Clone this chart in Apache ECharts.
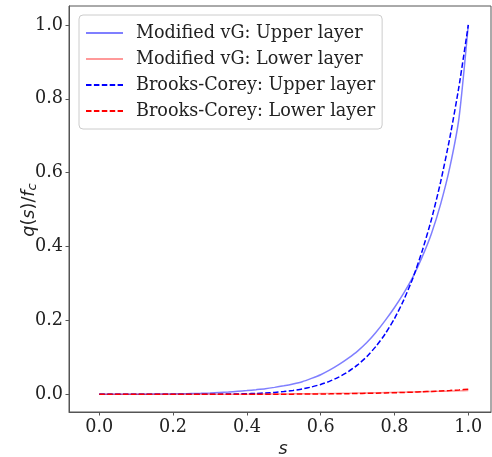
<!DOCTYPE html>
<html>
<head>
<meta charset="utf-8">
<script src="https://cdn.jsdelivr.net/npm/echarts@6/dist/echarts.min.js"></script>
<style>html,body{margin:0;padding:0;background:#fff}#c{width:492px;height:457px}</style>
</head>
<body>
<div id="c"></div>
<script>
const sValues = [0, 0.025, 0.05, 0.075, 0.1, 0.125, 0.15, 0.175, 0.2, 0.225, 0.25, 0.275, 0.3, 0.325, 0.35, 0.375, 0.4, 0.425, 0.45, 0.475, 0.5, 0.525, 0.55, 0.575, 0.6, 0.625, 0.65, 0.675, 0.7, 0.725, 0.75, 0.775, 0.8, 0.825, 0.85, 0.875, 0.9, 0.925, 0.95, 0.975, 1.0];
const vgUpper = [0, 0, 0, 0.0001, 0.0002, 0.0003, 0.0005, 0.0007, 0.001, 0.0014, 0.002, 0.0027, 0.0035, 0.0047, 0.006, 0.008, 0.010, 0.0124, 0.015, 0.0187, 0.023, 0.028, 0.034, 0.043, 0.053, 0.066, 0.081, 0.098, 0.117, 0.140, 0.168, 0.200, 0.235, 0.274, 0.318, 0.372, 0.435, 0.515, 0.615, 0.75, 1.0];
const vgLower = [0, 0, 0, 0, 0, 0, 0, 0, 0, 0, 0.0001, 0.0001, 0.0001, 0.0002, 0.0002, 0.0003, 0.0004, 0.0005, 0.0006, 0.0007, 0.0009, 0.0011, 0.0013, 0.0015, 0.0018, 0.0021, 0.0025, 0.0029, 0.0033, 0.0037, 0.0042, 0.0047, 0.0052, 0.0057, 0.0063, 0.0069, 0.0075, 0.0082, 0.0088, 0.0094, 0.0100];
const bcUpper = [0, 0, 0, 0, 0, 0, 0, 0, 0, 0, 0.00005, 0.0001, 0.0002, 0.0003, 0.0006, 0.00095, 0.0015, 0.0023, 0.0035, 0.0051, 0.0073, 0.0103, 0.0143, 0.0197, 0.0266, 0.0355, 0.047, 0.0614, 0.0795, 0.102, 0.130, 0.164, 0.205, 0.255, 0.315, 0.388, 0.473, 0.575, 0.695, 0.835, 1.0];
const bcLower = [0, 0, 0, 0, 0, 0, 0, 0, 0, 0, 0, 0, 0, 0, 0, 0, 0.0001, 0.0001, 0.0002, 0.0002, 0.0003, 0.0004, 0.0005, 0.0007, 0.0009, 0.0011, 0.0014, 0.0017, 0.0021, 0.0025, 0.003, 0.0036, 0.0042, 0.0049, 0.0057, 0.0067, 0.0077, 0.0089, 0.0103, 0.0118, 0.0135];
const seriesNames = ['Modified vG: Upper layer', 'Modified vG: Lower layer', 'Brooks-Corey: Upper layer', 'Brooks-Corey: Lower layer'];
const xTicks = [0, 0.2, 0.4, 0.6, 0.8, 1.0];
const yTicks = [0, 0.2, 0.4, 0.6, 0.8, 1.0];

const pairs = arr => sValues.map((s, i) => [s, arr[i]]);
const FONT = 'DejaVu Serif';
const FS = 17.6;

function mk(name, arr, color, dashed) {
  return {
    name: name, type: 'line', data: pairs(arr), symbol: 'none', showSymbol: false,
    smooth: 0.2,
    lineStyle: { color: color, width: 1.5, type: dashed ? [5.5, 2.4] : 'solid' },
    itemStyle: { color: color },
    emphasis: { disabled: true }, animation: false
  };
}

const chart = echarts.init(document.getElementById('c'), null, { renderer: 'canvas' });
chart.setOption({
  animation: false,
  backgroundColor: '#fff',
  grid: { left: 69, right: 1, top: 6, bottom: 45, show: true, borderColor: '#555', borderWidth: 1, backgroundColor: 'transparent', containLabel: false, outerBoundsMode: 'none' },
  legend: {
    left: 79, top: 15, orient: 'vertical',
    data: seriesNames,
    itemWidth: 37, itemHeight: 14, itemGap: 8,
    padding: [9, 7, 9, 6],
    backgroundColor: 'rgba(255,255,255,0.8)',
    borderColor: '#cccccc', borderWidth: 1, borderRadius: 4,
    itemStyle: { opacity: 0 },
    textStyle: { fontFamily: FONT, fontSize: FS, color: '#222', padding: [0, 0, 0, 8] },
    selectedMode: false
  },
  graphic: [{
    type: 'text', x: 29, y: 210, rotation: Math.PI / 2, silent: true,
    style: {
      text: '{i|q}{n|(}{i|s}{n|)/}{i|f}{sub|c}',
      align: 'center', verticalAlign: 'middle', fill: '#222',
      rich: {
        i: { fontFamily: 'DejaVu Sans', fontStyle: 'italic', fontSize: FS, fill: '#222' },
        n: { fontFamily: 'DejaVu Sans', fontSize: FS, fill: '#222' },
        sub: { fontFamily: 'DejaVu Sans', fontStyle: 'italic', fontSize: 13, fill: '#222', verticalAlign: 'bottom', padding: [7, 0, 0, 0] }
      }
    }
  }],
  xAxis: {
    type: 'value', min: -0.082, max: 1.0615,
    splitLine: { show: false },
    axisLine: { show: true, onZero: false, lineStyle: { color: '#555', width: 1 } },
    axisTick: { show: true, length: 3.5, lineStyle: { color: '#555' }, customValues: xTicks },
    axisLabel: { customValues: xTicks, margin: 6, fontFamily: FONT, fontSize: FS, color: '#222', formatter: v => v.toFixed(1) },
    name: 's', nameLocation: 'middle', nameGap: 22,
    nameTextStyle: { fontFamily: 'DejaVu Sans', fontStyle: 'italic', fontSize: FS, color: '#222', padding: [0, 0, 0, 6] }
  },
  yAxis: {
    type: 'value', min: -0.048, max: 1.0514,
    splitLine: { show: false },
    axisLine: { show: true, onZero: false, lineStyle: { color: '#555', width: 1 } },
    axisTick: { show: true, length: 3.5, lineStyle: { color: '#555' }, customValues: yTicks },
    axisLabel: { customValues: yTicks, margin: 6, fontFamily: FONT, fontSize: FS, color: '#222', formatter: v => v.toFixed(1) }
  },
  series: [
    mk(seriesNames[0], vgUpper, 'rgba(0,0,255,0.5)', false),
    mk(seriesNames[1], vgLower, 'rgba(255,0,0,0.4)', false),
    mk(seriesNames[2], bcUpper, '#0000ff', true),
    mk(seriesNames[3], bcLower, '#ff0000', true)
  ]
});
</script>
</body>
</html>
